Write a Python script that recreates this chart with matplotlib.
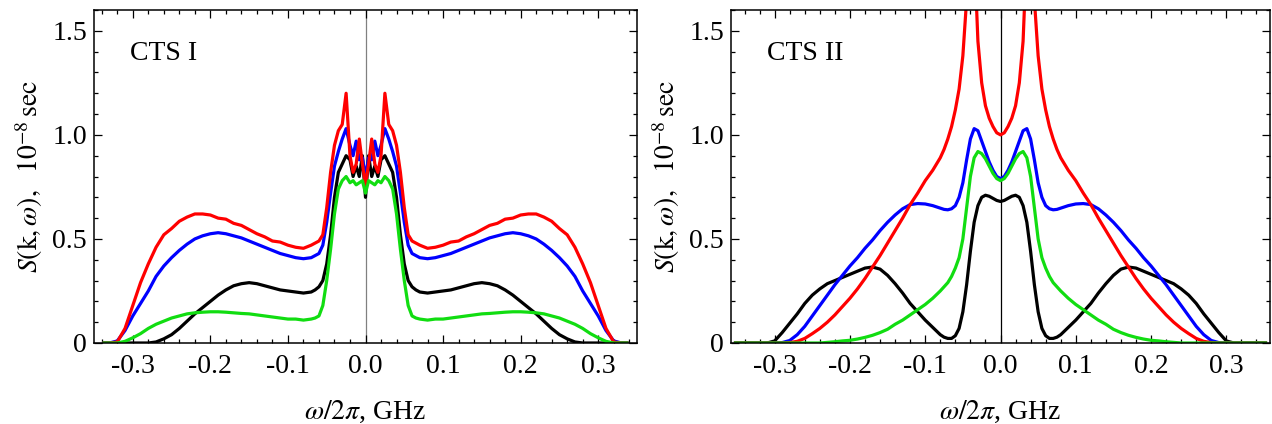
import numpy as np
import matplotlib
matplotlib.use('Agg')
import matplotlib.pyplot as plt
from matplotlib.ticker import MultipleLocator, FormatStrFormatter

plt.rcParams['font.family'] = ['Liberation Serif', 'DejaVu Serif']
plt.rcParams['mathtext.fontset'] = 'stix'

# --- CTS I (values for w >= 0, curves are symmetric) ---
x_cts1 = [0, 0.004, 0.008, 0.012, 0.016, 0.02, 0.025, 0.03, 0.035, 0.04, 0.045,
          0.05, 0.055, 0.06, 0.065, 0.07, 0.08, 0.09, 0.10, 0.11, 0.12, 0.13,
          0.14, 0.15, 0.16, 0.17, 0.18, 0.19, 0.20, 0.21, 0.22, 0.23, 0.24,
          0.25, 0.26, 0.27, 0.28, 0.29, 0.30, 0.31, 0.32, 0.33, 0.337]

red_cts1 = [0.76, 0.86, 0.98, 0.86, 0.82, 0.90, 1.20, 1.05, 1.02, 0.95, 0.82,
            0.65, 0.52, 0.49, 0.48, 0.47, 0.455, 0.46, 0.47, 0.485, 0.49, 0.51,
            0.525, 0.545, 0.565, 0.575, 0.595, 0.60, 0.615, 0.62, 0.62, 0.605, 0.585,
            0.55, 0.52, 0.46, 0.38, 0.29, 0.18, 0.07, 0.005, 0, 0]

blue_cts1 = [0.80, 0.89, 0.88, 0.97, 0.90, 0.95, 1.03, 0.98, 0.92, 0.85, 0.72,
             0.58, 0.47, 0.43, 0.42, 0.41, 0.405, 0.41, 0.42, 0.43, 0.445, 0.46,
             0.475, 0.49, 0.505, 0.515, 0.525, 0.53, 0.525, 0.515, 0.50, 0.475, 0.445,
             0.41, 0.37, 0.32, 0.25, 0.19, 0.13, 0.06, 0.01, 0, 0]

black_cts1 = [0.70, 0.90, 0.80, 0.85, 0.80, 0.88, 0.90, 0.86, 0.82, 0.70, 0.52,
              0.38, 0.30, 0.27, 0.255, 0.245, 0.24, 0.245, 0.25, 0.255, 0.265, 0.275,
              0.285, 0.29, 0.285, 0.275, 0.255, 0.23, 0.20, 0.17, 0.14, 0.105, 0.07,
              0.04, 0.02, 0.005, 0, 0, 0, 0, 0, 0, 0]

green_cts1 = [0.72, 0.78, 0.77, 0.76, 0.78, 0.77, 0.80, 0.78, 0.74, 0.62, 0.45,
              0.30, 0.18, 0.13, 0.12, 0.115, 0.11, 0.115, 0.115, 0.12, 0.125, 0.13,
              0.135, 0.14, 0.142, 0.145, 0.148, 0.15, 0.15, 0.148, 0.145, 0.14, 0.13,
              0.12, 0.105, 0.09, 0.07, 0.045, 0.025, 0.008, 0, 0, 0]

# --- CTS II (values for w >= 0, curves are symmetric) ---
x_cts2 = [0, 0.005, 0.01, 0.015, 0.02, 0.025, 0.03, 0.035, 0.04, 0.045, 0.05,
          0.055, 0.06, 0.065, 0.07, 0.075, 0.08, 0.09, 0.10, 0.11, 0.12, 0.13,
          0.14, 0.15, 0.16, 0.17, 0.18, 0.19, 0.20, 0.21, 0.22, 0.23, 0.24,
          0.25, 0.26, 0.27, 0.28, 0.29, 0.30, 0.31, 0.32, 0.352]

red_cts2 = [1.0, 1.01, 1.04, 1.08, 1.14, 1.25, 1.45, 1.9, 2.2, 1.65, 1.38,
            1.22, 1.12, 1.04, 0.98, 0.93, 0.89, 0.83, 0.78, 0.72, 0.665, 0.60,
            0.54, 0.48, 0.42, 0.365, 0.31, 0.26, 0.215, 0.175, 0.135, 0.10, 0.07,
            0.045, 0.022, 0.008, 0.002, 0, 0, 0, 0, 0]

blue_cts2 = [0.79, 0.80, 0.83, 0.87, 0.92, 0.97, 1.02, 1.03, 0.98, 0.88, 0.77,
             0.70, 0.66, 0.645, 0.64, 0.642, 0.648, 0.66, 0.668, 0.67, 0.665, 0.645,
             0.615, 0.58, 0.54, 0.495, 0.455, 0.41, 0.37, 0.325, 0.28, 0.23, 0.18,
             0.13, 0.08, 0.04, 0.012, 0.002, 0, 0, 0, 0]

black_cts2 = [0.68, 0.685, 0.695, 0.705, 0.71, 0.70, 0.66, 0.58, 0.44, 0.28, 0.15,
              0.07, 0.035, 0.022, 0.022, 0.028, 0.04, 0.075, 0.11, 0.15, 0.19, 0.24,
              0.285, 0.325, 0.355, 0.365, 0.36, 0.345, 0.33, 0.315, 0.30, 0.285, 0.26,
              0.23, 0.19, 0.14, 0.095, 0.05, 0.01, 0, 0, 0]

green_cts2 = [0.78, 0.79, 0.815, 0.85, 0.885, 0.91, 0.92, 0.89, 0.80, 0.65, 0.50,
              0.41, 0.36, 0.32, 0.29, 0.27, 0.25, 0.215, 0.185, 0.16, 0.135, 0.11,
              0.09, 0.066, 0.05, 0.037, 0.027, 0.019, 0.013, 0.01, 0.006, 0.003, 0,
              0, 0, 0, 0, 0, 0, 0, 0, 0]

colors = ['black', 'blue', 'red', '#11dd11']
panels = [
    ('CTS I', x_cts1, [black_cts1, blue_cts1, red_cts1, green_cts1], 0.35, '#808080'),
    ('CTS II', x_cts2, [black_cts2, blue_cts2, red_cts2, green_cts2], 0.358, 'black'),
]

x_ticks = [-0.3, -0.2, -0.1, 0.0, 0.1, 0.2, 0.3]
y_ticks = [0, 0.5, 1.0, 1.5]
y_tick_labels = ['0', '0.5', '1.0', '1.5']

fig = plt.figure(figsize=(12.72, 4.24), dpi=100)
rects = [[94 / 1272, 81 / 424, 543 / 1272, 333 / 424],
         [731 / 1272, 81 / 424, 539 / 1272, 333 / 424]]

for rect, (name, xs, curves, xlim, zcol) in zip(rects, panels):
    ax = fig.add_axes(rect)
    xs = np.array(xs)
    xfull = np.concatenate([-xs[::-1], xs[1:]])
    ax.axvline(0, color=zcol, lw=0.9, zorder=1)
    for ys, c in zip(curves, colors):
        ys = np.array(ys)
        yfull = np.concatenate([ys[::-1], ys[1:]])
        ax.plot(xfull, yfull, color=c, lw=2.3, solid_joinstyle='round', zorder=2)

    ax.set_xlim(-xlim, xlim)
    ax.set_ylim(0, 1.6)
    ax.set_xticks(x_ticks)
    ax.xaxis.set_major_formatter(FormatStrFormatter('%.1f'))
    ax.set_yticks(y_ticks)
    ax.set_yticklabels(y_tick_labels)
    ax.xaxis.set_minor_locator(MultipleLocator(0.02))
    ax.yaxis.set_minor_locator(MultipleLocator(0.1))
    ax.tick_params(which='both', direction='in', top=True, right=True,
                   width=0.9, labelsize=20, pad=5)
    ax.tick_params(axis='x', which='both', pad=8)
    ax.tick_params(which='major', length=5.5)
    ax.tick_params(which='minor', length=3)
    for s in ax.spines.values():
        s.set_linewidth(1.1)

    ax.text(0.066, 0.85, name, transform=ax.transAxes, fontsize=20)
    ax.set_xlabel(r'$\omega/2\pi$, GHz', fontsize=20, labelpad=14)
    ax.set_ylabel(r'$S(\mathrm{k},\omega),\ \ 10^{-8}\,\mathrm{sec}$', fontsize=20, labelpad=5)

fig.savefig('out.png', dpi=100)
